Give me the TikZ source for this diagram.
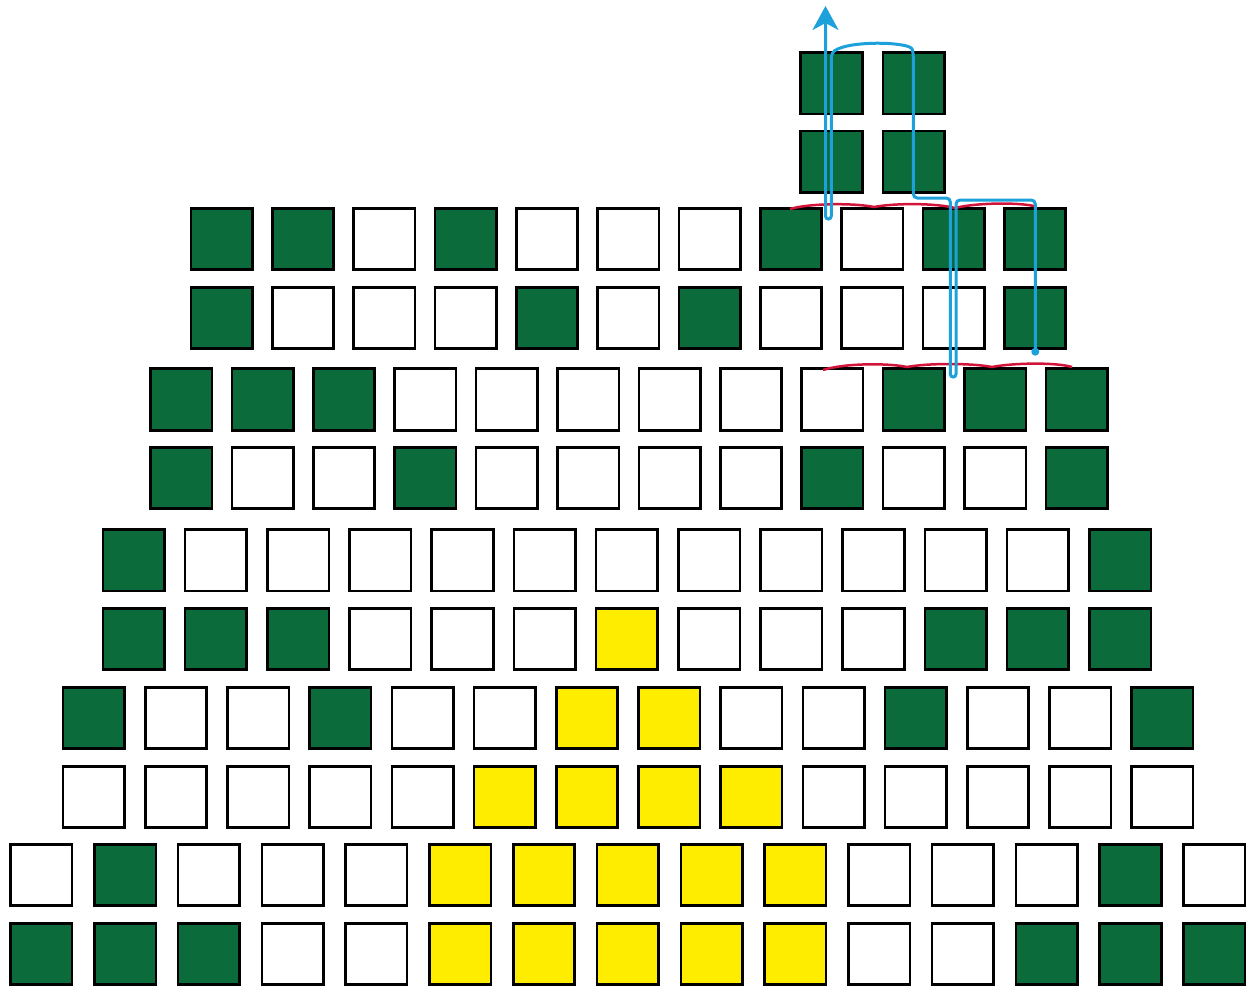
\documentclass[tikz,border=0pt]{standalone}
\usetikzlibrary{arrows.meta}
\definecolor{tgreen}{RGB}{12,107,58}
\definecolor{tyellow}{RGB}{255,237,0}
\definecolor{tblue}{RGB}{29,161,219}
\definecolor{tred}{RGB}{210,20,58}
\tikzset{
  sq/.style={rectangle, draw=black, line width=2.6pt, minimum size=61.5pt, inner sep=0pt},
  sqG/.style={sq, fill=tgreen},
  sqW/.style={sq, fill=white},
  sqY/.style={sq, fill=tyellow},
  blueline/.style={draw=tblue, line width=3pt},
  redline/.style={draw=tred, line width=2.5pt}
}
\begin{document}
\begin{tikzpicture}[x=1pt,y=-1pt]
\useasboundingbox (0,0) rectangle (1249,988);
\fill[white] (0,0) rectangle (1249,988);
\foreach \r/\yy/\xa/\dx/\pat in {
  a/83.3/831.5/82.2/{G,G},
  b/161.7/831.5/82.2/{G,G},
  1/239/221.7/81.33/{G,G,W,G,W,W,W,G,W,G,G},
  2/318/221.7/81.33/{G,W,W,W,G,W,G,W,W,W,G},
  3/399.5/181.2/81.4/{G,G,G,W,W,W,W,W,W,G,G,G},
  4/478/181.2/81.4/{G,W,W,G,W,W,W,W,G,W,W,G},
  5/560.3/133.7/82.2/{G,W,W,W,W,W,W,W,W,W,W,W,G},
  6/639/133.7/82.2/{G,G,G,W,W,W,Y,W,W,W,G,G,G},
  7/718/93.8/82.2/{G,W,W,G,W,W,Y,Y,W,W,G,W,W,G},
  8/797/93.8/82.2/{W,W,W,W,W,Y,Y,Y,Y,W,W,W,W,W},
  9/875/41.3/83.78/{W,G,W,W,W,Y,Y,Y,Y,Y,W,W,W,G,W},
  10/954/41.3/83.78/{G,G,G,W,W,Y,Y,Y,Y,Y,W,W,G,G,G}}{
  \foreach \c [count=\i from 0] in \pat {
    \node[sq\c] (s\r-\i) at ({\xa+\i*\dx},\yy) {};
  }
}
% red scallops
\draw[redline] (790,209) .. controls (810,203) and (855,203) .. (874,207)
  .. controls (895,203) and (935,203) .. (955,208)
  .. controls (975,203) and (1015,202) .. (1034,206);
\draw[redline] (823,370) .. controls (845,363) and (888,363) .. (907,367)
  .. controls (928,363) and (972,363) .. (992,367)
  .. controls (1012,363) and (1055,362) .. (1072,367);
% blue path
\coordinate (bstart) at (1035.3,351.7);
\coordinate (btip) at (825.5,6);
\fill[tblue] (bstart) circle (4pt);
\draw[blueline, rounded corners=4pt, -{Stealth[length=24pt,width=26pt,inset=7pt]}]
  (bstart) -- (1035.3,200) -- (956,200) -- (956,370)
  .. controls (956,378) and (950.3,378) .. (950.3,370)
  -- (950.3,198) -- (913.3,198) -- (913.3,53)
  .. controls (910,42) and (850,40) .. (831.3,53)
  -- (831.3,212) .. controls (831.3,220) and (825.5,220) .. (825.5,212)
  -- (btip);
\end{tikzpicture}
\end{document}
